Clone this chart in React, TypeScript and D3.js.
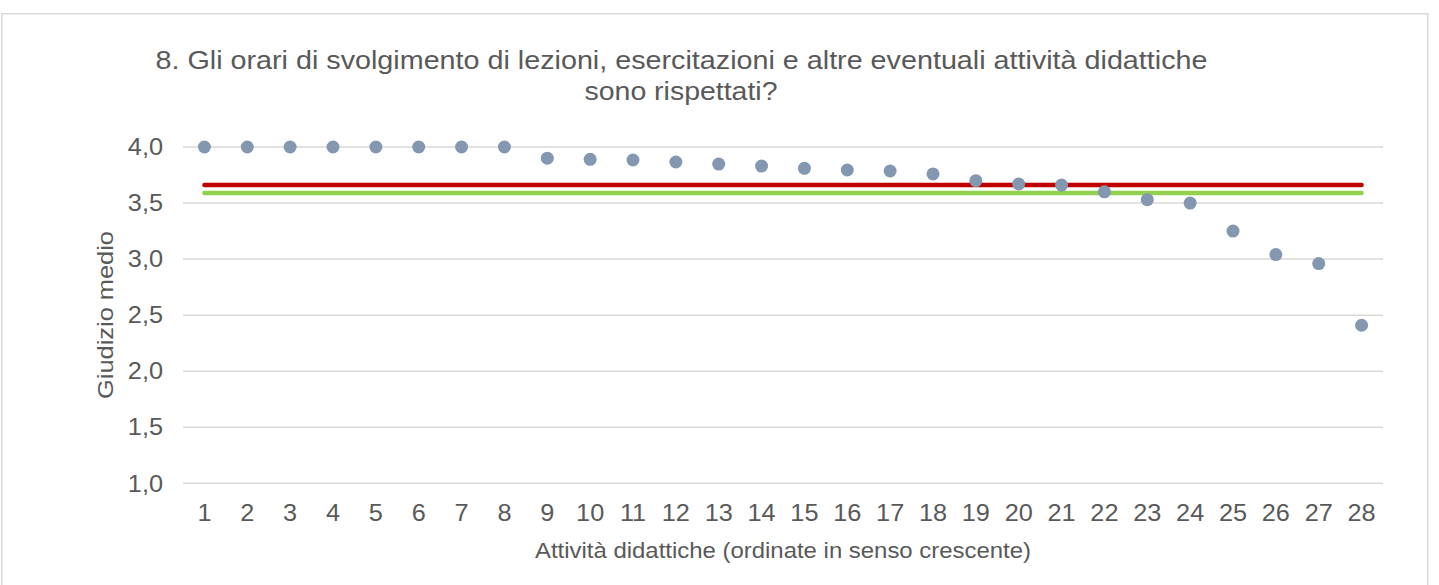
import React from "react";
import * as d3 from "d3";

const categories: number[] = d3.range(1, 29);
const values: number[] = [
  4.0, 4.0, 4.0, 4.0, 4.0, 4.0, 4.0, 4.0, 3.9, 3.89, 3.884, 3.866, 3.848, 3.83,
  3.81, 3.795, 3.786, 3.76, 3.7, 3.67, 3.66, 3.6, 3.53, 3.5, 3.25, 3.04, 2.96, 2.41,
];
const redLevel = 3.66;
const greenLevel = 3.59;
const yTicks: number[] = [1.0, 1.5, 2.0, 2.5, 3.0, 3.5, 4.0];
const titleLines: string[] = [
  "8. Gli orari di svolgimento di lezioni, esercitazioni e altre eventuali attività didattiche",
  "sono rispettati?",
];
const xTitle = "Attività didattiche (ordinate in senso crescente)";
const yTitle = "Giudizio medio";

const W = 1439;
const H = 585;
const FONT = "'Liberation Sans', Arial, sans-serif";
const TXT = "#595959";

export default function App() {
  const x = d3
    .scaleBand<number>()
    .domain(categories)
    .range([183, 1383])
    .paddingInner(0)
    .paddingOuter(0);
  const y = d3.scaleLinear().domain([1, 4]).range([483.3, 147]);
  const cx = (c: number) => (x(c) as number) + x.bandwidth() / 2;
  const fmt = (v: number) => v.toFixed(1).replace(".", ",");
  const first = cx(categories[0]);
  const last = cx(categories[categories.length - 1]);
  const hLine = d3.line<number>().x((d) => d).y(() => 0);

  return (
    <svg
      width={W}
      height={H}
      style={{ position: "absolute", left: 0, top: 0, background: "#fff" }}
      fontFamily={FONT}
    >
      <rect x={0} y={0} width={W} height={H} fill="#fff" />
      <rect
        x={1.75}
        y={13.75}
        width={1426}
        height={620}
        fill="#fff"
        stroke="#d9d9d9"
        strokeWidth={1.5}
      />
      {/* title */}
      <text
        x={681.5}
        y={68.5}
        fontSize={26.5}
        fill={TXT}
        textAnchor="middle"
        textLength={1052}
        lengthAdjust="spacingAndGlyphs"
      >
        {titleLines[0]}
      </text>
      <text
        x={681}
        y={100}
        fontSize={26.5}
        fill={TXT}
        textAnchor="middle"
        textLength={193}
        lengthAdjust="spacingAndGlyphs"
      >
        {titleLines[1]}
      </text>
      {/* gridlines */}
      {yTicks.map((t) => (
        <line
          key={"g" + t}
          x1={183}
          x2={1383}
          y1={y(t)}
          y2={y(t)}
          stroke="#d9d9d9"
          strokeWidth={1.5}
        />
      ))}
      {/* y tick labels */}
      {yTicks.map((t) => (
        <text
          key={"yt" + t}
          transform={`translate(163,${y(t) + 8.2}) scale(1.1,1)`}
          fontSize={23}
          fill={TXT}
          textAnchor="end"
        >
          {fmt(t)}
        </text>
      ))}
      {/* x tick labels */}
      {categories.map((c) => (
        <text
          key={"xt" + c}
          transform={`translate(${cx(c)},521) scale(1.1,1)`}
          fontSize={23}
          fill={TXT}
          textAnchor="middle"
        >
          {c}
        </text>
      ))}
      {/* axis titles */}
      <text
        x={783}
        y={558}
        fontSize={22}
        fill={TXT}
        textAnchor="middle"
        textLength={496}
        lengthAdjust="spacingAndGlyphs"
      >
        {xTitle}
      </text>
      <text
        transform={`translate(113,315) rotate(-90)`}
        fontSize={22}
        fill={TXT}
        textAnchor="middle"
        textLength={168}
        lengthAdjust="spacingAndGlyphs"
      >
        {yTitle}
      </text>
      {/* reference lines */}
      <path
        d={hLine([first, last]) as string}
        transform={`translate(0,${y(redLevel)})`}
        stroke="#C00000"
        strokeWidth={4.5}
        strokeLinecap="round"
        fill="none"
      />
      <path
        d={hLine([first, last]) as string}
        transform={`translate(0,${y(greenLevel)})`}
        stroke="#92D050"
        strokeWidth={4.5}
        strokeLinecap="round"
        fill="none"
      />
      {/* points */}
      {values.map((v, i) => (
        <circle
          key={"p" + i}
          cx={cx(categories[i])}
          cy={y(v)}
          r={6.5}
          fill="#8497B0"
        />
      ))}
    </svg>
  );
}
